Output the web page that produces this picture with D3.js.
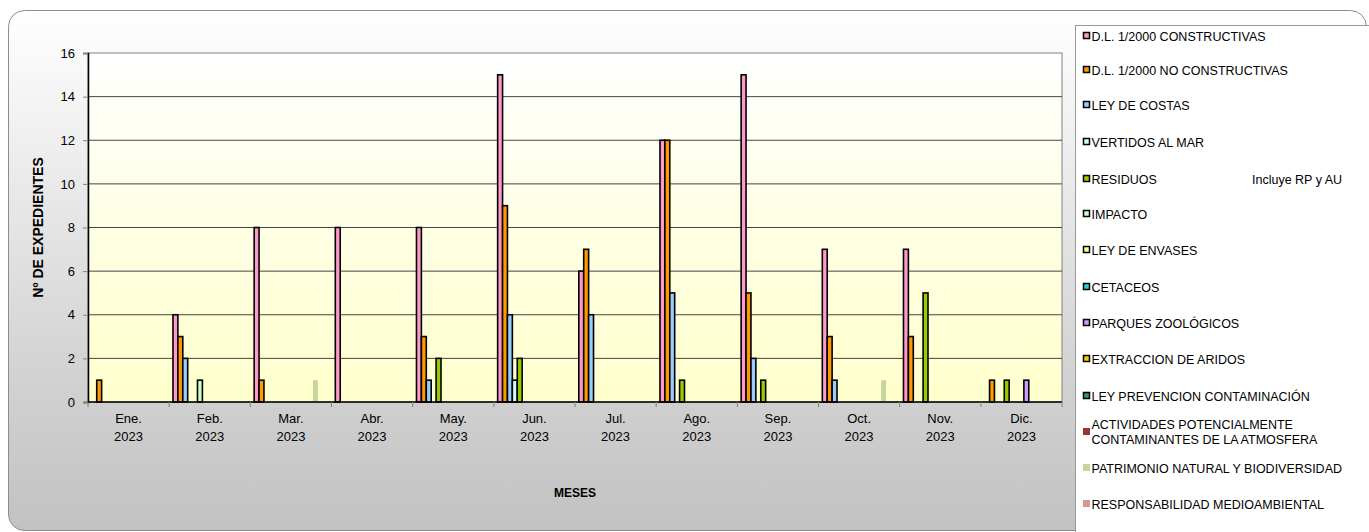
<!DOCTYPE html>
<html>
<head>
<meta charset="utf-8">
<script src="https://cdnjs.cloudflare.com/ajax/libs/d3/7.8.5/d3.min.js"></script>
<style>
body { margin: 0; background: #fff; }
svg text { font-family: "Liberation Sans", Arial, sans-serif; }
</style>
</head>
<body>
<div class="svgContainer"></div>
<script>
var width = 1369,
	height = 532,
	margin = {top: 53, right: 307, bottom: 130, left: 88};

// months on the x axis (two lines each)
var months = ["Ene.", "Feb.", "Mar.", "Abr.", "May.", "Jun.", "Jul.", "Ago.", "Sep.", "Oct.", "Nov.", "Dic."];
var year = "2023";

var series = ["D.L. 1/2000 CONSTRUCTIVAS", "D.L. 1/2000 NO CONSTRUCTIVAS", "LEY DE COSTAS", "VERTIDOS AL MAR",
	"RESIDUOS", "IMPACTO", "LEY DE ENVASES", "CETACEOS", "PARQUES ZOOLÓGICOS", "EXTRACCION DE ARIDOS",
	"LEY PREVENCION CONTAMINACIÓN", "ACTIVIDADES POTENCIALMENTE CONTAMINANTES DE LA ATMOSFERA",
	"PATRIMONIO NATURAL Y BIODIVERSIDAD", "RESPONSABILIDAD MEDIOAMBIENTAL"];

var colors = ["#ff99cc", "#ff9900", "#99ccff", "#ccffff", "#99cc00", "#ccffcc", "#ffff99", "#33cccc",
	"#cc99ff", "#ffcc00", "#339966", "#993333", "#c4d79b", "#da9694"];
var outlined = [1, 1, 1, 1, 1, 1, 1, 1, 1, 1, 1, 0, 0, 0];

// values per series, one per month
var constructivas   = [0, 4, 8, 8, 8, 15, 6, 12, 15, 7, 7, 0];
var noConstructivas = [1, 3, 1, 0, 3, 9, 7, 12, 5, 3, 3, 1];
var costas          = [0, 2, 0, 0, 1, 4, 4, 5, 2, 1, 0, 0];
var vertidos        = [0, 0, 0, 0, 0, 1, 0, 0, 0, 0, 0, 0];
var residuos        = [0, 0, 0, 0, 2, 2, 0, 1, 1, 0, 5, 1];
var impacto         = [0, 1, 0, 0, 0, 0, 0, 0, 0, 0, 0, 0];
var envases         = [0, 0, 0, 0, 0, 0, 0, 0, 0, 0, 0, 0];
var cetaceos        = [0, 0, 0, 0, 0, 0, 0, 0, 0, 0, 0, 0];
var zoologicos      = [0, 0, 0, 0, 0, 0, 0, 0, 0, 0, 0, 1];
var aridos          = [0, 0, 0, 0, 0, 0, 0, 0, 0, 0, 0, 0];
var prevencion      = [0, 0, 0, 0, 0, 0, 0, 0, 0, 0, 0, 0];
var atmosfera       = [0, 0, 0, 0, 0, 0, 0, 0, 0, 0, 0, 0];
var patrimonio      = [0, 0, 1, 0, 0, 0, 0, 0, 0, 1, 0, 0];
var responsabilidad = [0, 0, 0, 0, 0, 0, 0, 0, 0, 0, 0, 0];

var values = [constructivas, noConstructivas, costas, vertidos, residuos, impacto, envases, cetaceos,
	zoologicos, aridos, prevencion, atmosfera, patrimonio, responsabilidad];

var yTicks = [0, 2, 4, 6, 8, 10, 12, 14, 16];

var svg = d3.select("div.svgContainer")
	.append("svg")
	.attr("width", width)
	.attr("height", height);

var defs = svg.append("defs");
var bgGrad = defs.append("linearGradient").attr("id", "bg").attr("x1", 0).attr("y1", 0).attr("x2", 0).attr("y2", 1);
bgGrad.append("stop").attr("offset", "0%").attr("stop-color", "#ffffff");
bgGrad.append("stop").attr("offset", "70%").attr("stop-color", "#d2d2d2");
bgGrad.append("stop").attr("offset", "100%").attr("stop-color", "#c2c2c2");
var plotGrad = defs.append("linearGradient").attr("id", "plotbg").attr("x1", 0).attr("y1", 0).attr("x2", 0).attr("y2", 1);
plotGrad.append("stop").attr("offset", "0%").attr("stop-color", "#ffffff");
plotGrad.append("stop").attr("offset", "100%").attr("stop-color", "#ffffcc");

// chart frame
svg.append("rect")
	.attr("x", 8.5).attr("y", 10.5)
	.attr("width", 1358).attr("height", 520)
	.attr("rx", 16).attr("ry", 16)
	.attr("fill", "url(#bg)")
	.attr("stroke", "#8c8c8c");

var x0 = d3.scaleBand()
	.domain(months)
	.range([margin.left, width - margin.right])
	.paddingInner(0.094)
	.paddingOuter(0.047);

var x1 = d3.scaleBand()
	.domain(d3.range(15))
	.range([0, x0.bandwidth()]);

var y = d3.scaleLinear()
	.domain([0, 16])
	.range([height - margin.bottom, margin.top]);

// plot area
svg.append("rect")
	.attr("x", margin.left).attr("y", margin.top)
	.attr("width", width - margin.right - margin.left)
	.attr("height", height - margin.bottom - margin.top)
	.attr("fill", "url(#plotbg)")
	.attr("stroke", "#808080");

// grid lines
svg.append("g").selectAll("line")
	.data(yTicks.slice(1, -1))
	.enter().append("line")
	.attr("x1", margin.left).attr("x2", width - margin.right)
	.attr("y1", function(d) { return y(d); })
	.attr("y2", function(d) { return y(d); })
	.attr("stroke", "#444")
	.attr("stroke-width", 1);

// bars
var bars = [];
values.forEach(function(vals, s) {
	vals.forEach(function(v, m) {
		if (v > 0) bars.push({s: s, m: m, v: v});
	});
});

svg.append("g").selectAll("rect")
	.data(bars)
	.enter().append("rect")
	.attr("x", function(d) { return x0(months[d.m]) + x1(d.s); })
	.attr("y", function(d) { return y(d.v); })
	.attr("width", x1.bandwidth())
	.attr("height", function(d) { return y(0) - y(d.v); })
	.attr("fill", function(d) { return colors[d.s]; })
	.attr("stroke", function(d) { return outlined[d.s] ? "#000" : "none"; })
	.attr("stroke-width", 1.6);

// y axis
var yAxis = svg.append("g")
	.attr("transform", "translate(" + margin.left + ",0)")
	.call(d3.axisLeft(y).tickValues(yTicks).tickSize(5).tickPadding(8));
yAxis.select(".domain").attr("stroke", "#000").attr("stroke-width", 1.5);
yAxis.selectAll(".tick line").attr("stroke", "#808080");
yAxis.selectAll("text").attr("font-size", 13).attr("fill", "#000")
	.style("font-family", "'Liberation Sans', Arial, sans-serif");

// x axis
var xAxis = svg.append("g")
	.attr("transform", "translate(0," + y(0) + ")");
xAxis.append("line")
	.attr("x1", margin.left).attr("x2", width - margin.right)
	.attr("stroke", "#000").attr("stroke-width", 1.5);
var step = x0.step();
xAxis.selectAll(".tk")
	.data(d3.range(13))
	.enter().append("line")
	.attr("x1", function(d) { return margin.left + d * step; })
	.attr("x2", function(d) { return margin.left + d * step; })
	.attr("y1", 0).attr("y2", 5)
	.attr("stroke", "#808080");
var xl = xAxis.selectAll(".lbl")
	.data(months)
	.enter().append("text")
	.attr("text-anchor", "middle")
	.attr("font-size", 13)
	.attr("fill", "#000");
xl.append("tspan")
	.attr("x", function(d) { return x0(d) + x0.bandwidth() / 2; })
	.attr("y", 21)
	.text(function(d) { return d; });
xl.append("tspan")
	.attr("x", function(d) { return x0(d) + x0.bandwidth() / 2; })
	.attr("y", 39)
	.text(year);

// axis titles
svg.append("text")
	.attr("x", (margin.left + width - margin.right) / 2)
	.attr("y", 497)
	.attr("text-anchor", "middle")
	.attr("font-size", 12)
	.attr("font-weight", "bold")
	.text("MESES");

svg.append("text")
	.attr("transform", "translate(43," + (y(8)) + ") rotate(-90)")
	.attr("text-anchor", "middle")
	.attr("font-size", 14)
	.attr("font-weight", "bold")
	.text("Nº DE EXPEDIENTES");

// legend
var lx = 1075.5, ly = 25.5;
svg.append("rect")
	.attr("x", lx).attr("y", ly)
	.attr("width", 320).attr("height", 540)
	.attr("fill", "#fff")
	.attr("stroke", "#999");

var rowY = [37, 71, 106, 143, 180, 215, 251, 288, 324, 360, 397, 433, 469, 505];
var legend = svg.append("g").selectAll("g")
	.data(series)
	.enter().append("g")
	.attr("transform", function(d, i) { return "translate(1083," + rowY[i] + ")"; });

legend.append("rect")
	.attr("x", function(d, i) { return outlined[i] ? 0.5 : 0; })
	.attr("y", function(d, i) { return outlined[i] ? -4.5 : -5; })
	.attr("width", function(d, i) { return outlined[i] ? 6 : 7; })
	.attr("height", function(d, i) { return outlined[i] ? 6 : 7; })
	.attr("fill", function(d, i) { return colors[i]; })
	.attr("stroke", function(d, i) { return outlined[i] ? "#000" : "none"; })
	.attr("stroke-width", 1.5);

legend.each(function(d, i) {
	var t = d3.select(this).append("text")
		.attr("x", 8.5)
		.attr("y", 4)
		.attr("font-size", 12.5)
		.attr("fill", "#000");
	if (i == 11) {
		t.append("tspan").attr("x", 8.5).attr("y", -4).text("ACTIVIDADES POTENCIALMENTE");
		t.append("tspan").attr("x", 8.5).attr("y", 11).text("CONTAMINANTES DE LA ATMOSFERA");
	} else {
		t.text(d);
	}
});

svg.append("text")
	.attr("x", 1252).attr("y", rowY[4] + 4)
	.attr("font-size", 12.5)
	.text("Incluye RP y AU");
</script>
</body>
</html>
